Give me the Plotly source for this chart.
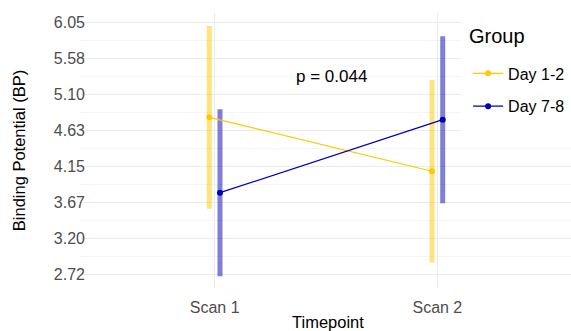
import plotly.graph_objects as go

# Data
timepoints = ["Scan 1", "Scan 2"]
groups = ["Day 1-2", "Day 7-8"]
day12_mean = [4.794, 4.083]
day12_err = [1.205, 1.203]
day78_mean = [3.801, 4.763]
day78_err = [1.10, 1.10]
ytick_labels = ["2.72", "3.20", "3.67", "4.15", "4.63", "5.10", "5.58", "6.05"]
p_label = "p = 0.044"
legend_title = "Group"
x_title = "Timepoint"
y_title = "Binding Potential (BP)"

line_colors = ["#FFC800", "#0000B4"]
bar_colors = ["rgba(255,200,0,0.5)", "rgba(0,0,180,0.5)"]
dodge = [-0.024, 0.024]

means = [day12_mean, day78_mean]
errs = [day12_err, day78_err]

ymin, ymax = 2.72, 6.05
step = (ymax - ymin) / 7
major = [ymin + k * step for k in range(8)]
minor = [ymin + (k + 0.5) * step for k in range(-1, 8)]

fig = go.Figure()

xpos = [i + 1 for i in range(len(timepoints))]

# error bars (drawn first)
for g in range(2):
    xs, ys = [], []
    for i, x in enumerate(xpos):
        xx = x + dodge[g]
        xs += [xx, xx, None]
        ys += [means[g][i] - errs[g][i], means[g][i] + errs[g][i], None]
    fig.add_trace(go.Scatter(x=xs, y=ys, mode="lines",
                             line=dict(color=bar_colors[g], width=5),
                             legendgroup="g%d" % g,
                             showlegend=False, hoverinfo="skip"))

for g in range(2):
    fig.add_trace(go.Scatter(
        x=[x + dodge[g] for x in xpos], y=means[g], mode="lines+markers",
        name=groups[g], legendgroup="g%d" % g,
        line=dict(color=line_colors[g], width=1.2),
        marker=dict(color=line_colors[g], size=6),
    ))

fig.add_annotation(x=1.525, y=5.33, text=p_label, showarrow=False,
                   font=dict(size=17, color="black"))

# white legend panel covering the grid behind the legend
fig.add_shape(type="rect", xref="paper", yref="paper",
              x0=0.7755, x1=1.01, y0=0.542, y1=1.0,
              fillcolor="white", line=dict(width=0), layer="above")

fig.add_annotation(xref="paper", yref="paper", x=0.7878, y=0.9164,
                   xanchor="left", yanchor="middle", text=legend_title,
                   showarrow=False, font=dict(size=20, color="black"))

fig.add_annotation(xref="paper", yref="paper", x=0.504, y=-0.1225,
                   xanchor="center", yanchor="middle", text=x_title,
                   showarrow=False, font=dict(size=16.5, color="black"))

fig.update_layout(
    width=571, height=331,
    margin=dict(l=81, r=0, t=13, b=43),
    paper_bgcolor="white", plot_bgcolor="white",
    font=dict(family="Liberation Sans, Arial, sans-serif"),
    legend=dict(
        font=dict(size=16, color="black"),
        x=0.79, xanchor="left", y=0.842, yanchor="top",
        bgcolor="rgba(0,0,0,0)", tracegroupgap=9, itemwidth=30,
    ),
    showlegend=True,
)
fig.update_xaxes(
    range=[0.4, 2.6], tickvals=xpos, ticktext=timepoints,
    showgrid=True, gridcolor="#EBEBEB", gridwidth=1,
    zeroline=False, showline=False, ticks="",
    tickfont=dict(size=16, color="#4D4D4D"), ticklabelstandoff=8,
)
fig.update_yaxes(
    range=[2.545, 6.169], tickvals=major, ticktext=ytick_labels,
    showgrid=True, gridcolor="#EBEBEB", gridwidth=1,
    minor=dict(tickvals=minor, showgrid=True, gridcolor="#F4F4F4", gridwidth=1),
    zeroline=False, showline=False, ticks="",
    tickfont=dict(size=16, color="#4D4D4D"), ticklabelstandoff=-5,
    title=dict(text=y_title, font=dict(size=16.5, color="black"), standoff=24),
)

fig.write_html("out.html")
